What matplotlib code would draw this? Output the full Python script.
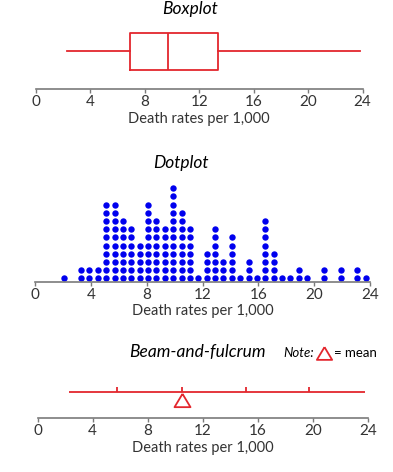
import numpy as np
import matplotlib.pyplot as plt
from matplotlib.lines import Line2D

# dotplot: bin centres and number of countries in each bin
dot_bins = [2.1, 3.3, 3.9, 4.5, 5.1, 5.7, 6.3, 6.9, 7.5, 8.1, 8.7, 9.3, 9.9, 10.5,
            11.1, 11.7, 12.3, 12.9, 13.5, 14.1, 14.7, 15.3, 15.9, 16.5, 17.1,
            17.7, 18.3, 18.9, 19.5, 20.7, 21.9, 23.1]
dot_counts = [1, 2, 2, 2, 10, 10, 8, 7, 5, 10, 8, 7, 12, 9,
              7, 1, 4, 7, 3, 6, 1, 3, 1, 8, 4,
              1, 1, 2, 1, 2, 2, 2]
dot_last = [23.7]
dot_last_counts = [1]

# boxplot five-number summary
box_min = 2.3
box_q1 = 6.9
box_med = 9.7
box_q3 = 13.4
box_max = 23.8

# beam: range, marks and mean
beam_range = [2.3, 23.8]
beam_marks = [5.8, 10.5, 15.15, 19.75]
beam_mean = 10.5

xticks = [0, 4, 8, 12, 16, 20, 24]
xlabel = 'Death rates per 1,000'

RED = '#e3262d'
GREY = '#7a7a7a'
TXT = '#333333'

plt.rcParams['font.family'] = ['Lato', 'DejaVu Sans']

W, H = 393, 472
fig = plt.figure(figsize=(W / 100, H / 100), dpi=100)


def px_axes(x0, x1, ytop, ybot):
    return fig.add_axes([x0 / W, 1 - ybot / H, (x1 - x0) / W, (ybot - ytop) / H])


def style_axis(ax):
    for s in ['top', 'left', 'right']:
        ax.spines[s].set_visible(False)
    ax.spines['bottom'].set_color(GREY)
    ax.spines['bottom'].set_linewidth(1.2)
    ax.set_xlim(0, 24)
    ax.set_xticks(xticks)
    ax.set_yticks([])
    ax.tick_params(axis='x', length=3, width=1, color=GREY, labelsize=11,
                   labelcolor=TXT, pad=1)
    ax.set_xlabel(xlabel, fontsize=10.5, color=TXT, labelpad=2)
    ax.patch.set_alpha(0)


# --- boxplot ---
ax1 = px_axes(36, 362.5, 13.3, 89.3)
stats = [dict(med=box_med, q1=box_q1, q3=box_q3, whislo=box_min, whishi=box_max, fliers=[])]
ax1.bxp(stats, positions=[0.5], widths=0.48, orientation='horizontal', showcaps=False,
        showfliers=False, manage_ticks=False,
        boxprops=dict(color=RED, linewidth=1.3),
        whiskerprops=dict(color=RED, linewidth=1.3),
        medianprops=dict(color=RED, linewidth=1.3))
ax1.set_ylim(0, 1)
style_axis(ax1)
fig.text(190 / W, 1 - 9 / H, 'Boxplot', fontsize=12.5, style='italic', ha='center', va='center')

# --- dotplot ---
ax2 = px_axes(35, 370, 182, 282)
xs, ys = [], []
for b, c in zip(dot_bins + dot_last, dot_counts + dot_last_counts):
    for r in range(c):
        xs.append(b)
        ys.append(r)
ax2.plot(xs, ys, 'o', color='#0000ee', markersize=4.6, markeredgewidth=0, clip_on=False)
ax2.set_ylim(-0.45, 100 / 8.2 - 0.45)
style_axis(ax2)
fig.text(181 / W, 1 - 163 / H, 'Dotplot', fontsize=12.5, style='italic', ha='center', va='center')

# --- beam and fulcrum ---
ax3 = px_axes(37.7, 367.7, 370, 418.3)
ax3.set_ylim(0, 48.3)
beam_y = 418.3 - 391.7
ax3.plot(beam_range, [beam_y, beam_y], color=RED, linewidth=1.3, solid_capstyle='butt')
ax3.vlines(beam_marks, beam_y, beam_y + 5, color=RED, linewidth=1.3)
tri = [(0, 0.5), (-0.6, -0.5), (0.6, -0.5), (0, 0.5)]
ax3.plot([beam_mean], [418.3 - 399.5], marker=tri, markersize=11.5, markerfacecolor='none',
         markeredgecolor=RED, markeredgewidth=1.3, linestyle='none')
style_axis(ax3)
fig.text(197 / W, 1 - 352 / H, 'Beam-and-fulcrum', fontsize=12.5, style='italic', ha='center', va='center')
fig.text(283 / W, 1 - 353 / H, 'Note:', fontsize=9.5, style='italic', ha='left', va='center')
fig.add_artist(Line2D([324 / W], [1 - 352.5 / H], marker=tri, markersize=11, markerfacecolor='none',
                      markeredgecolor=RED, markeredgewidth=1.3, linestyle='none',
                      transform=fig.transFigure))
fig.text(333.5 / W, 1 - 353 / H, '= mean', fontsize=9.5, ha='left', va='center')

fig.savefig('out.png', dpi=100)
